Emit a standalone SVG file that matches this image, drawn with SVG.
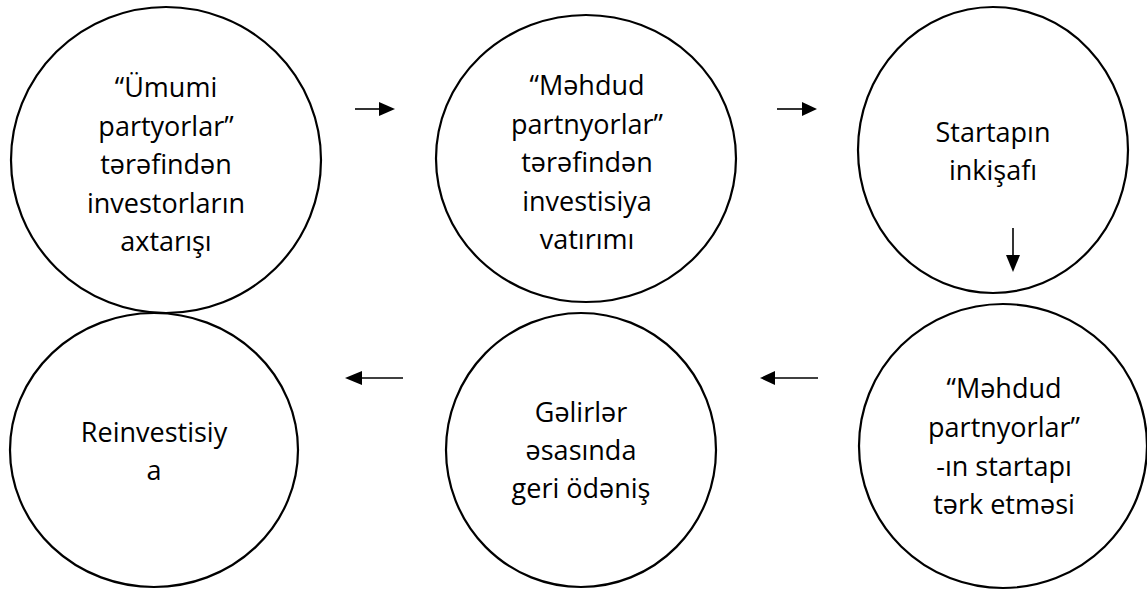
<svg xmlns="http://www.w3.org/2000/svg" width="1147" height="590" viewBox="0 0 1147 590">
<style>
.node ellipse{fill:#fff;stroke:#000;stroke-width:2.2}
.node text{font-family:"Open Sans","Liberation Sans",sans-serif;font-size:27px;fill:#000;text-anchor:middle}
.conn line{stroke:#000;stroke-width:1.6}
.conn polygon{fill:#000}
</style>
<rect width="1147" height="590" fill="#fff"/>
<g id="n1" class="node">
<ellipse cx="166" cy="160" rx="155" ry="153"/>
<text x="166" y="97">“Ümumi</text>
<text x="166" y="135.5">partyorlar”</text>
<text x="166" y="174">tərəfindən</text>
<text x="166" y="212.5">investorların</text>
<text x="166" y="251">axtarışı</text>
</g>
<g id="n2" class="node">
<ellipse cx="586" cy="158.5" rx="150" ry="143.5"/>
<text x="587" y="95">“Məhdud</text>
<text x="587" y="133.5">partnyorlar”</text>
<text x="587" y="172">tərəfindən</text>
<text x="587" y="210.5">investisiya</text>
<text x="587" y="249">vatırımı</text>
</g>
<g id="n3" class="node">
<ellipse cx="993" cy="150" rx="135" ry="143"/>
<text x="993" y="142">Startapın</text>
<text x="993" y="180">inkişafı</text>
</g>
<g id="n4" class="node">
<ellipse cx="1003" cy="446" rx="144" ry="142"/>
<text x="1004" y="398">“Məhdud</text>
<text x="1004" y="437">partnyorlar”</text>
<text x="1004" y="475.5">-ın startapı</text>
<text x="1004" y="514">tərk etməsi</text>
</g>
<g id="n5" class="node">
<ellipse cx="581" cy="450" rx="135" ry="137"/>
<text x="581" y="422">Gəlirlər</text>
<text x="581" y="460">əsasında</text>
<text x="581" y="498">geri ödəniş</text>
</g>
<g id="n6" class="node">
<ellipse cx="154" cy="450" rx="144" ry="137"/>
<text x="154" y="442">Reinvestisiy</text>
<text x="154" y="480">a</text>
</g>
<g id="connectors" class="conn">
<line x1="355" y1="109" x2="380" y2="109"/>
<polygon points="379,102 395,109 379,116"/>
<line x1="777" y1="109" x2="803" y2="109"/>
<polygon points="802,102 817,109 802,116"/>
<line x1="1013" y1="228" x2="1013" y2="256"/>
<polygon points="1006,255 1020,255 1013,272"/>
<line x1="818" y1="378" x2="774" y2="378"/>
<polygon points="775,371 760,378 775,385"/>
<line x1="403" y1="378" x2="361" y2="378"/>
<polygon points="362,371 345,378 362,385"/>
</g>
</svg>
